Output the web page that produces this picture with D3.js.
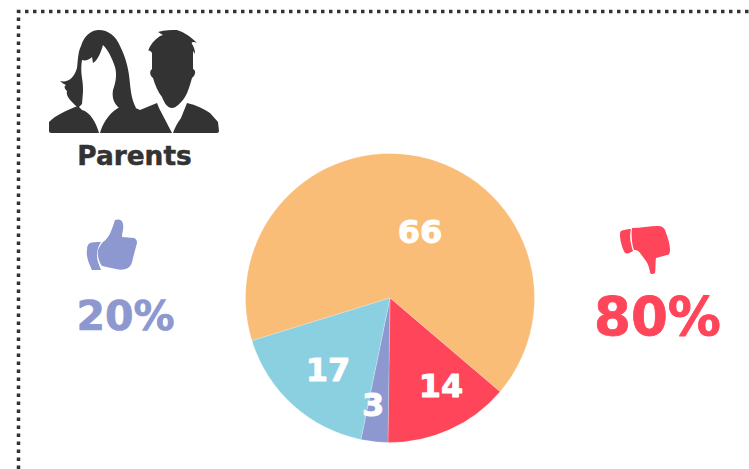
<!DOCTYPE html>
<html><head><meta charset="utf-8">
<script src="https://cdn.jsdelivr.net/npm/d3@7/dist/d3.min.js"></script>
<style>html,body{margin:0;padding:0;background:#fff;overflow:hidden}svg{display:block}text{font-family:"DejaVu Sans",sans-serif;font-weight:700;stroke-linejoin:round}</style>
</head><body><svg id="c" width="749" height="469"></svg>
<script>
const categories = ["Neutral high","Strongly against","Slightly for","Strongly for"];
const values = [66,14,3,17];
const colors = ["#fabd78","#ff4559","#8c98cf","#8bd0e0"];
const title = "Parents";
const upLabel = "20%";
const downLabel = "80%";
const labelOffset = [[30,-66],[51,88],[-17,107],[-62,72]];

const svg = d3.select("#c");
svg.append("path").attr("d","M18.5,469V11.5H749").attr("fill","none")
  .attr("stroke","#333").attr("stroke-width",3.5).attr("stroke-dasharray","3.5 4.5");

const cx=390, cy=298, R=144.5;
const pie=d3.pie().sort(null).startAngle(-107.2*Math.PI/180).endAngle((360-107.2)*Math.PI/180);
const arc=d3.arc().innerRadius(0).outerRadius(R);
const g=svg.append("g").attr("transform",`translate(${cx},${cy})`);
const arcs=pie(values);
g.selectAll("path").data(arcs).join("path").attr("d",arc)
  .attr("fill",(d,i)=>colors[i]).attr("stroke","#fff").attr("stroke-opacity",.35).attr("stroke-width",.6);
g.selectAll("text").data(arcs).join("text")
  .attr("x",(d,i)=>labelOffset[i][0]).attr("y",(d,i)=>labelOffset[i][1])
  .attr("text-anchor","middle").attr("dominant-baseline","central")
  .attr("font-size",32).attr("fill","#fff").attr("stroke","#fff").attr("stroke-width",.9).text(d=>d.value);

// people icon
const ic=svg.append("g").attr("fill","#333");
ic.append("path").attr("d","M60,81 C68,83 74,78 77,68 C78,60 78,52 81,46 C84,36 91,30 99,30 C108,30 116,36 120,46 C126,58 129,70 130,84 C131,93 132,100 136,108 L124,112 L118,107 C113,102 112,96 113,90 C116,82 117,74 115,67 C112,58 108,50 103,45 C101,52 98,60 93,63 L92,57 C89,60 85,61 82,60 C81,66 81,72 82,78 C83,84 83,88 83,92 L82,104 L78,108 L72,102 C68,98 66,94 67,91 C64,88 64,86 66,85 C64,84 62,83 60,81 Z");
ic.append("path").attr("d","M49,122 C56,115 67,110 78,106 L82,110 C90,112 96,122 99,133 L51,133 C50,133 49,132 49,131 Z");
ic.append("path").attr("d","M100,133 C102,125 108,114 118,108 L125,105 C131,106 136,108 140,110 L157,103 L159,108 L172,133 Z");
ic.append("path").attr("d","M158,32 C165,30 171,30 177,30 C184,32 191,37 197,43 C193,41 191,42 192,44 C194,47 195,50 195,54 L193,51 L193,69 C196,70 196,75 192,78 C190,85 188,92 185,97 C181,103 176,108 172,108 C167,108 164,102 162,97 C158,92 155,85 153,78 C150,76 149,71 152,69 L152,53 C151,51 149,50 148,51 C150,45 154,40 160,36 L163,35 Z");
ic.append("path").attr("d","M173,133 C175,127 178,122 181,118 L187,103 C196,105 204,109 210,113 L218,122 L219,131 C219,132 218,133 217,133 Z");
svg.append("text").attr("x",134.5).attr("y",165).attr("text-anchor","middle").attr("font-size",26.4).attr("fill","#333").attr("stroke","#333").attr("stroke-width",.5).text(title);

// thumb up
const up=svg.append("g").attr("fill","#8c98cf");
up.append("path").attr("d","M115,220 C118,219 122,219 123,224 C124,228 122,233 122,237 L134,238 C136,239 137,240 137,243 L133,258 C132,263 131,266 128,268 C124,270 120,270 116,269 L102,266 C99,262 97,255 98,250 C100,246 101,244 103,242 C108,239 111,232 113,226 Z");
up.append("path").attr("d","M90,243 C92,242 96,242 101,242 C97,248 96,255 98,262 L101,270 L92,270 C88,262 86,255 87,250 C87,246 88,244 90,243 Z");
svg.append("text").attr("x",125.5).attr("y",330).attr("text-anchor","middle").attr("font-size",41).attr("fill","#8c98cf").attr("stroke","#8c98cf").attr("stroke-width",.7).text(upLabel);
// thumb down
const dn=svg.append("g").attr("fill","#ff4559");
dn.append("path").attr("d","M632,228 C640,228 650,226 658,226 C662,226 664,228 665,230 C668,238 670,244 670,250 C670,253 669,255 667,255 L656,258 C655,263 656,268 655,273 C652,275 650,274 650,272 C649,267 648,264 646,261 L640,253 C638,250 636,250 634,250 C632,244 631,236 632,228 Z");
dn.append("path").attr("d","M621,231 C623,230 627,229 631,229 C629,237 631,245 633,251 C630,253 627,254 625,253 C622,248 620,240 620,235 C620,233 620,232 621,231 Z");
svg.append("text").attr("x",657.5).attr("y",335).attr("text-anchor","middle").attr("font-size",53).attr("fill","#ff4559").attr("stroke","#ff4559").attr("stroke-width",.8).text(downLabel);
</script></body></html>
